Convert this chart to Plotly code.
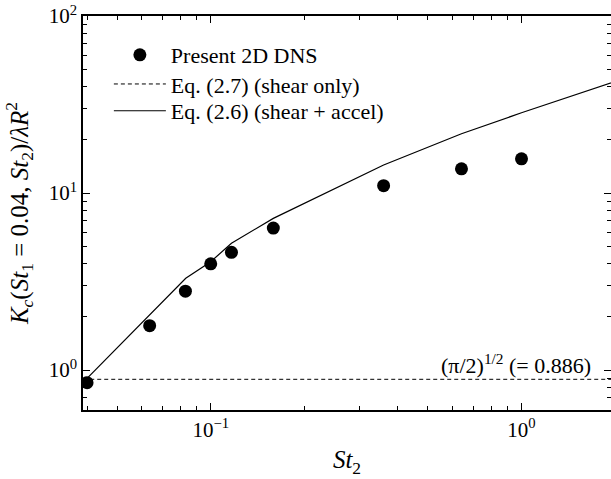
import plotly.graph_objects as go

# DNS data
st2_dns = [0.04, 0.0636, 0.0829, 0.1, 0.1166, 0.159, 0.36, 0.641, 1.0]
kc_dns = [0.848, 1.78, 2.79, 3.98, 4.62, 6.34, 11.0, 13.7, 15.6]

# Eq. (2.6) shear + accel
st2_eq26 = [0.04, 0.0636, 0.0831, 0.1, 0.1166, 0.159, 0.36, 0.641, 1.0, 2.0]
kc_eq26 = [0.897, 2.05, 3.30, 4.09, 5.2, 7.19, 14.4, 21.6, 28.4, 42.7]

# Eq. (2.7) shear only
st2_eq27 = [0.03, 3.0]
kc_eq27 = [0.886, 0.886]

FONT = "Liberation Serif, Times New Roman, serif"

fig = go.Figure()
fig.add_trace(go.Scatter(x=st2_dns, y=kc_dns, mode="markers", name="Present 2D DNS",
                         marker=dict(color="black", size=13), legend="legend"))
fig.add_trace(go.Scatter(x=st2_eq27, y=kc_eq27, mode="lines", name="Eq. (2.7) (shear only)",
                         line=dict(color="black", width=1, dash="4px,3px"), legend="legend2"))
fig.add_trace(go.Scatter(x=st2_eq26, y=kc_eq26, mode="lines", name="Eq. (2.6) (shear + accel)",
                         line=dict(color="black", width=1.2), legend="legend3"))
# empty trace to hold the right-hand tick axis
fig.add_trace(go.Scatter(x=[], y=[], yaxis="y2", showlegend=False, hoverinfo="skip"))

xminor = [m * 10**e for e in (-2, -1, 0) for m in range(2, 10)]
yminor = [m * 10**e for e in (-1, 0, 1) for m in range(2, 10)]

tickfont = dict(family=FONT, size=21, color="black")
minor_x = dict(tickvals=xminor, ticks="inside", ticklen=4, tickwidth=1, tickcolor="black")
minor_y = dict(tickvals=yminor, ticks="inside", ticklen=4, tickwidth=1, tickcolor="black")

fig.update_layout(
    xaxis=dict(type="log", range=[-1.411, 0.288],
               tickvals=[0.1, 1.0], ticktext=["10<sup>−1</sup>", "10<sup>0</sup>"],
               minor=minor_x,
               showline=True, linecolor="black", linewidth=1.5, mirror="ticks",
               ticks="inside", ticklen=7, tickwidth=1.2, tickcolor="black",
               showgrid=False, zeroline=False, tickfont=tickfont,
               title=dict(text="<i>St</i><sub>2</sub>", font=dict(family=FONT, size=25, color="black"),
                          standoff=10)),
    yaxis=dict(type="log", range=[-0.226, 2.0],
               tickvals=[1, 10, 100], ticktext=["10<sup>0</sup>", "10<sup>1</sup>", "10<sup>2</sup>"],
               minor=minor_y,
               showline=True, linecolor="black", linewidth=1.5, mirror=False,
               ticks="inside", ticklen=7, tickwidth=1.2, tickcolor="black",
               showgrid=False, zeroline=False, tickfont=tickfont,
               title=dict(text="<i>K<sub>c</sub></i>(<i>St</i><sub>1</sub> = 0.04, <i>St</i><sub>2</sub>)/<i>λR</i><sup>2</sup>",
                          font=dict(family=FONT, size=25, color="black"), standoff=13)),
    yaxis2=dict(type="log", range=[-0.226, 2.0], overlaying="y", side="right", anchor="x",
                tickvals=[1, 10, 100], showticklabels=False, minor=minor_y,
                showline=False, ticks="inside", ticklen=7, tickwidth=1.2, tickcolor="black",
                showgrid=False, zeroline=False),
)

fig.add_annotation(text="(π/2)<sup>1/2</sup> (= 0.886)", xref="paper", yref="paper",
                   x=0.965, y=0.117, xanchor="right", yanchor="middle", showarrow=False,
                   font=dict(family=FONT, size=22, color="black"))

legend_common = dict(x=0.049, xanchor="left", yanchor="middle", bgcolor="rgba(0,0,0,0)",
                     font=dict(family=FONT, size=22, color="black"), itemwidth=52)

fig.update_layout(
    width=611, height=479,
    margin=dict(l=83, r=0, t=16, b=69),
    paper_bgcolor="white", plot_bgcolor="white",
    showlegend=True,
    legend=dict(y=0.901, **legend_common),
    legend2=dict(y=0.827, **legend_common),
    legend3=dict(y=0.759, **legend_common),
)

fig.write_html("out.html")
